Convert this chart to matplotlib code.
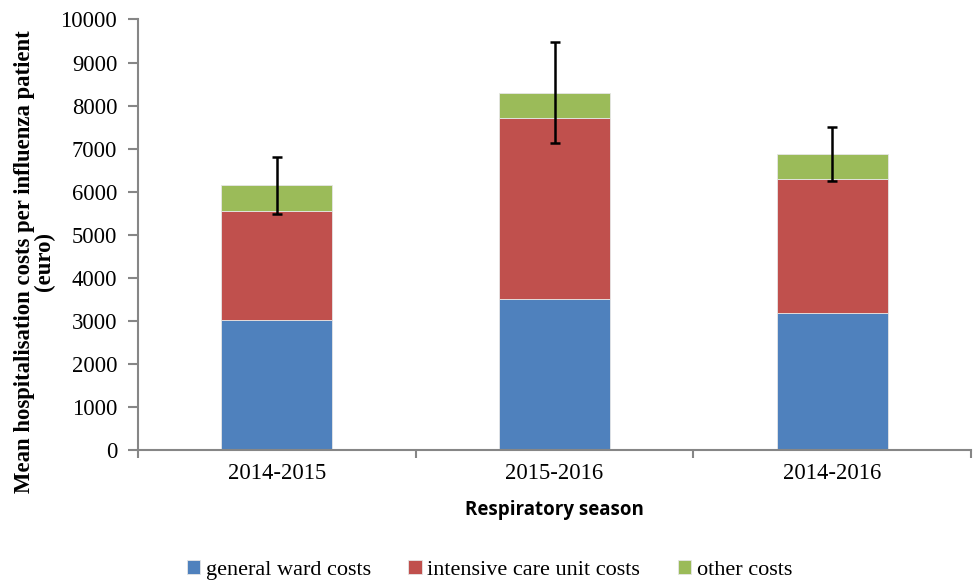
import matplotlib
matplotlib.use("Agg")
import matplotlib.pyplot as plt
import numpy as np

seasons = ["2014-2015", "2015-2016", "2014-2016"]
general_ward = [3010, 3500, 3180]
intensive_care = [2540, 4220, 3125]
other = [595, 580, 580]
error = [665, 1175, 626]

series_names = ["general ward costs", "intensive care unit costs", "other costs"]
colores = ["#4F81BD", "#C0504D", "#9BBB59"]

fig = plt.figure(figsize=(9.73, 5.83), dpi=100)
ax = fig.add_axes([0.1418, 0.2281, 0.998 - 0.1418, 0.9666 - 0.2281])

x = np.arange(len(seasons))
base = np.zeros(len(seasons))
for vals, nombre, col in zip([general_ward, intensive_care, other], series_names, colores):
	ax.bar(x, vals, width=0.4, bottom=base, color=col, edgecolor="#e6e6e6",
		linewidth=0.6, label=nombre, zorder=2)
	base = base + np.array(vals)

ax.errorbar(x, base, yerr=error, fmt="none", ecolor="black", elinewidth=1.8,
	capsize=3.6, capthick=1.8, zorder=3)

ax.set_xlim(-0.5, 2.5)
ax.set_ylim(0, 10000)
ax.set_yticks(np.arange(0, 10001, 1000))
ax.set_xticks(x)
ax.set_xticklabels(seasons)
ax.set_xticks([-0.5, 0.5, 1.5, 2.5], minor=True)
ax.tick_params(axis="x", which="major", length=0, pad=9)
ax.tick_params(axis="x", which="minor", length=6, width=1.5, color="#868686", direction="out")
ax.tick_params(axis="y", length=7, width=1.5, color="#868686", direction="out", pad=8)

for lab in ax.get_xticklabels() + ax.get_yticklabels():
	lab.set_fontfamily("Liberation Serif")
	lab.set_fontsize(16.3)

for s in ["top", "right"]:
	ax.spines[s].set_visible(False)
for s in ["left", "bottom"]:
	ax.spines[s].set_color("#868686")
	ax.spines[s].set_linewidth(1.5)

ax.set_ylabel("Mean hospitalisation costs per influenza patient\n(euro)",
	fontfamily="Liberation Serif", fontweight="bold", fontsize=16.4, linespacing=0.9)
ax.yaxis.set_label_coords(-0.1, 0.438)
ax.set_xlabel("Respiratory season", fontfamily="Open Sans", fontweight="bold", fontsize=13.5, labelpad=12)

leg = fig.legend(loc="center", bbox_to_anchor=(0.503, 0.023), ncol=3, frameon=False,
	prop={"family": "Liberation Serif", "size": 16}, handlelength=0.6, handleheight=0.6,
	handletextpad=0.25, columnspacing=1.7)

fig.savefig("out.png", dpi=100)
